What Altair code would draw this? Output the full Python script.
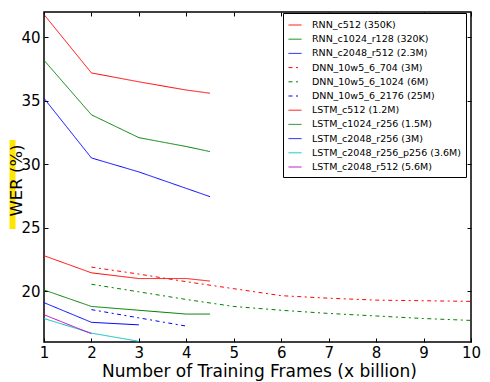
import altair as alt
import pandas as pd

# ---- data ----
series = [
    "RNN_c512 (350K)", "RNN_c1024_r128 (320K)", "RNN_c2048_r512 (2.3M)",
    "DNN_10w5_6_704 (3M)", "DNN_10w5_6_1024 (6M)", "DNN_10w5_6_2176 (25M)",
    "LSTM_c512 (1.2M)", "LSTM_c1024_r256 (1.5M)", "LSTM_c2048_r256 (3M)",
    "LSTM_c2048_r256_p256 (3.6M)", "LSTM_c2048_r512 (5.6M)",
]

rnn_x = [1, 2, 3, 4, 4.5]
rnn_c512 = [41.8, 37.2, 36.5, 35.85, 35.6]
rnn_c1024_r128 = [38.2, 33.9, 32.1, 31.4, 31.0]
rnn_c2048_r512 = [35.2, 30.5, 29.4, 28.1, 27.45]

dnn_x = [2, 3, 4, 5, 6, 7, 8, 9, 10]
dnn_704 = [21.9, 21.35, 20.75, 20.2, 19.65, 19.45, 19.3, 19.25, 19.2]
dnn_1024 = [20.55, 19.95, 19.35, 18.8, 18.5, 18.25, 18.05, 17.85, 17.7]
dnn_2176_x = [2, 3, 4]
dnn_2176 = [18.55, 17.9, 17.25]

lstm_x5 = [1, 2, 3, 4, 4.5]
lstm_c512 = [22.8, 21.45, 21.0, 21.0, 20.8]
lstm_c1024_r256 = [20.1, 18.8, 18.5, 18.2, 18.2]
lstm_x3 = [1, 2, 3]
lstm_c2048_r256 = [19.1, 17.55, 17.35]
lstm_c2048_r256_p256 = [17.85, 16.7, 16.05]
lstm_x2 = [1, 2]
lstm_c2048_r512 = [18.15, 16.65]

x_ticks = [1, 2, 3, 4, 5, 6, 7, 8, 9, 10]
y_ticks = [20, 25, 30, 35, 40]

# ---- styles ----
colors = ["#FF0000", "#008000", "#0000FF",
          "#FF0000", "#008000", "#0000FF",
          "#FF0000", "#008000", "#0000FF", "#00BFBF", "#BF00BF"]
solid = [1, 0]
dashdot = [4, 3.5, 2, 3.5]
dashes = [solid, solid, solid, dashdot, dashdot, dashdot,
          solid, solid, solid, solid, solid]

pairs = [
    (rnn_x, rnn_c512), (rnn_x, rnn_c1024_r128), (rnn_x, rnn_c2048_r512),
    (dnn_x, dnn_704), (dnn_x, dnn_1024), (dnn_2176_x, dnn_2176),
    (lstm_x5, lstm_c512), (lstm_x5, lstm_c1024_r256), (lstm_x3, lstm_c2048_r256),
    (lstm_x3, lstm_c2048_r256_p256), (lstm_x2, lstm_c2048_r512),
]
rows = []
for i, (name, (xs, ys)) in enumerate(zip(series, pairs)):
    for xv, yv in zip(xs, ys):
        rows.append({"series": name, "x": xv, "y": yv, "k": i})
df = pd.DataFrame(rows)

W, H = 427, 330
xscale = alt.Scale(domain=[1, 10], nice=False, zero=False)
yscale = alt.Scale(domain=[16, 42], nice=False, zero=False)

legend = alt.Legend(
    title=None, orient="none", legendX=239, legendY=1,
    strokeColor="black", fillColor="white", padding=5, cornerRadius=0,
    labelFont="DejaVu Sans", labelFontSize=9.5, labelColor="black",
    labelLimit=400, labelOffset=10,
    symbolType="stroke", symbolSize=169, symbolStrokeWidth=1,
    rowPadding=2.2,
)

lines = alt.Chart(df).mark_line(strokeWidth=1, clip=True).encode(
    x=alt.X("x:Q", scale=xscale, axis=alt.Axis(
        orient="bottom", values=x_ticks, ticks=False, domain=False, grid=False,
        labelFontSize=15, labelPadding=3, labelFlush=False,
        title="Number of Training Frames (x billion)", titleFontSize=17,
        titleX=215, titleY=34.7, titleBaseline="alphabetic", titleAlign="center")),
    y=alt.Y("y:Q", scale=yscale, axis=alt.Axis(
        orient="left", values=y_ticks, ticks=False, domain=False, grid=False,
        labelFontSize=15, labelPadding=4, zindex=1,
        title="WER (%)", titleFontSize=16.5, titleAngle=270,
        titleX=-22.5, titleY=168, titleBaseline="alphabetic", titleAlign="center")),
    color=alt.Color("series:N", sort=series,
                    scale=alt.Scale(domain=series, range=colors), legend=legend),
    strokeDash=alt.StrokeDash("series:N", sort=series,
                              scale=alt.Scale(domain=series, range=dashes), legend=legend),
)

def tick_axis(orient, values, offset):
    return alt.Axis(orient=orient, values=values, offset=offset, labels=False,
                    domain=False, grid=False, ticks=True, tickSize=4,
                    tickWidth=1, tickColor="black", title=None)

ticks_a = alt.Chart(df).mark_point(opacity=0).encode(
    x=alt.X("x:Q", scale=xscale, axis=tick_axis("top", x_ticks, -H)),
    y=alt.Y("y:Q", scale=yscale, axis=tick_axis("right", y_ticks, -W)),
)
ticks_b = alt.Chart(df).mark_point(opacity=0).encode(
    x=alt.X("x:Q", scale=xscale, axis=tick_axis("bottom", x_ticks, -H)),
    y=alt.Y("y:Q", scale=yscale, axis=tick_axis("left", y_ticks, -W)),
)

highlight = alt.Chart(pd.DataFrame({"a": [0]})).mark_rect(
    color="#FFE600", clip=False).encode(
    x=alt.value(-34.5), x2=alt.value(-28.5), y=alt.value(128), y2=alt.value(217))

chart = alt.layer(highlight, lines, ticks_a, ticks_b).resolve_axis(
    x="independent", y="independent"
).properties(
    width=W, height=H,
    autosize=alt.AutoSizeParams(type="none"),
    padding={"left": 36, "top": 4, "right": 11, "bottom": 40},
).configure_view(
    stroke="black", strokeWidth=1.5
).configure_axis(
    labelFont="DejaVu Sans", titleFont="DejaVu Sans",
    labelColor="black", titleColor="black", titleFontWeight="normal",
)

chart.save("out.html", embed_options={"renderer": "svg", "actions": False})
